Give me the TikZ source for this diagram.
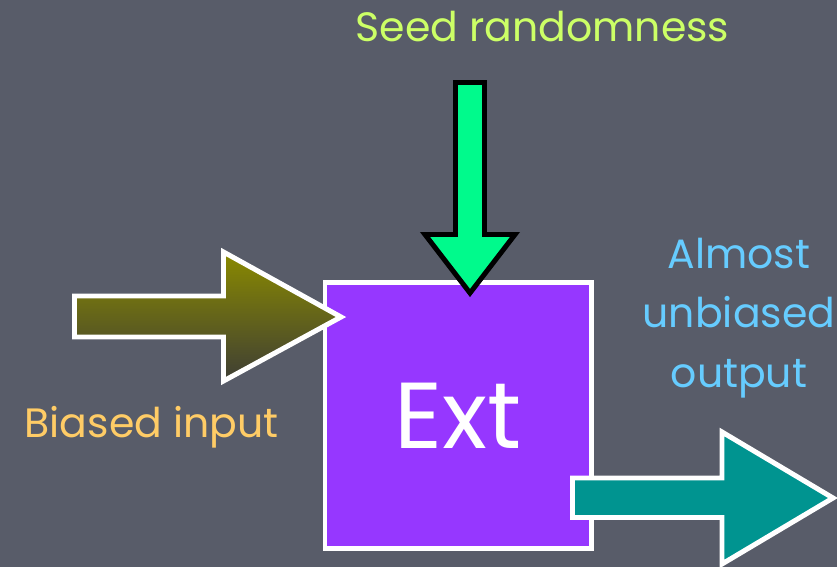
\documentclass[tikz,border=0pt]{standalone}
\usepackage{fontspec}
\setmainfont{Poppins}
\usepackage{tikz}

\definecolor{board}{RGB}{88,92,105}
\definecolor{extpurple}{RGB}{150,55,255}
\definecolor{seedgreen}{RGB}{0,250,140}
\definecolor{inolive}{RGB}{138,138,0}
\definecolor{indark}{RGB}{62,62,52}
\definecolor{outteal}{RGB}{0,148,144}
\definecolor{seedtext}{RGB}{204,255,102}
\definecolor{intext}{RGB}{255,204,102}
\definecolor{outtext}{RGB}{102,204,255}

\begin{document}
\begin{tikzpicture}[x=0.03cm, y=-0.03cm, every node/.style={font=\fontsize{35}{50.6}\selectfont, inner sep=0pt}]
	\useasboundingbox (0,0) rectangle (837,567);
	\fill[board] (0,0) rectangle (837,567);
	\node[draw=white, line width=4.25pt, fill=extpurple, minimum width=7.995cm, minimum height=7.98cm, text=white, font=\fontsize{80}{96}\selectfont] (ext) at (458.25,415.5) {Ext};
	\draw[white, line width=4.25pt, top color=inolive, bottom color=indark] (74.5,296) -- (223.5,296) -- (223.5,252) -- (341,317) -- (223.5,381) -- (223.5,337) -- (74.5,337) -- cycle;
	\draw[black, line width=4.25pt, fill=seedgreen] (455.5,82.5) -- (484.5,82.5) -- (484.5,234.5) -- (515,234.5) -- (470,293) -- (425,234.5) -- (455.5,234.5) -- cycle;
	\draw[white, line width=4.25pt, fill=outteal] (572.5,478) -- (722,478) -- (722,432) -- (833,498) -- (722,564) -- (722,517.5) -- (572.5,517.5) -- cycle;
	\node[text=seedtext, anchor=base] (seed) at (542.5,42) {Seed randomness};
	\node[text=intext, anchor=base] (biased) at (151.5,437) {Biased input};
	\node[text=outtext, anchor=base, align=center] (almost) at (739,387) {Almost\\unbiased\\output};
\end{tikzpicture}
\end{document}
